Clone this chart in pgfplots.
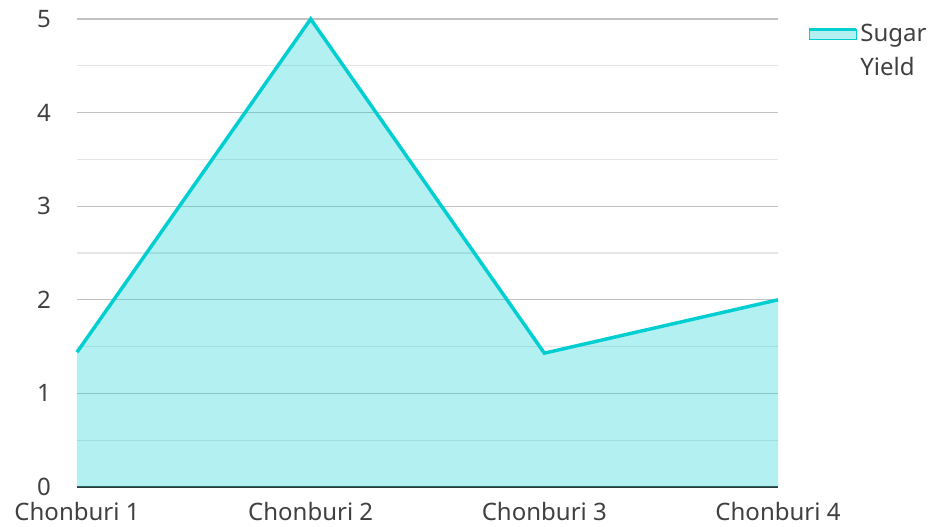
\documentclass[border=0pt]{standalone}
\usepackage{fontspec}
\setmainfont{Noto Sans}
\usepackage{pgfplots}
\pgfplotsset{compat=1.18}
\definecolor{turq}{HTML}{00CED1}
\definecolor{txt}{HTML}{404040}
\begin{document}
\begin{tikzpicture}
\path[use as bounding box] (-57.75pt,-29.25pt) rectangle (641.25pt,365.25pt);
\begin{axis}[
  scale only axis,
  width=525.75pt, height=351pt,
  xmin=0, xmax=3, ymin=0, ymax=5,
  xtick={0,1,2,3},
  xticklabels={Chonburi 1,Chonburi 2,Chonburi 3,Chonburi 4},
  ytick={0,1,2,3,4,5},
  minor ytick={0.5,1.5,2.5,3.5,4.5},
  ymajorgrids, yminorgrids,
  major grid style={color=black!24, line width=0.9pt},
  minor grid style={color=black!10, line width=0.9pt},
  axis x line*=bottom,
  axis y line*=left,
  y axis line style={draw=none},
  x axis line style={color=black!80, line width=1.5pt, -},
  tick style={draw=none},
  ticklabel style={font=\fontsize{18}{21}\selectfont, text=txt},
  xticklabel style={inner ysep=0pt, yshift=-11.5pt},
  yticklabel style={xshift=-16pt},
  /pgf/number format/assume math mode=true,
  clip=false,
  legend style={at={(rel axis cs:1,1)}, anchor=north west, xshift=19pt, yshift=0pt, draw=none, fill=none,
    font=\fontsize{18}{21}\selectfont, text=txt, row sep=0pt},
  legend cell align=left,
]
\addplot[draw=none, fill=turq, fill opacity=0.3, forget plot] coordinates {
  (0,1.44) (1,5) (2,1.43) (3,2.0)
} \closedcycle;
\addplot[draw=turq, line width=2.6pt, forget plot] coordinates {
  (0,1.44) (1,5) (2,1.43) (3,2.0)
};
\addlegendimage{legend image code/.code={
    \fill[turq, fill opacity=0.3] (-4pt,-4pt) rectangle (31pt,3.5pt);
    \draw[turq, line width=2.6pt] (-4pt,3.5pt) -- (31pt,3.5pt);
  }}
\addlegendentry{\parbox[t]{60pt}{Sugar\\[4pt]Yield}}
\end{axis}
\end{tikzpicture}
\end{document}
